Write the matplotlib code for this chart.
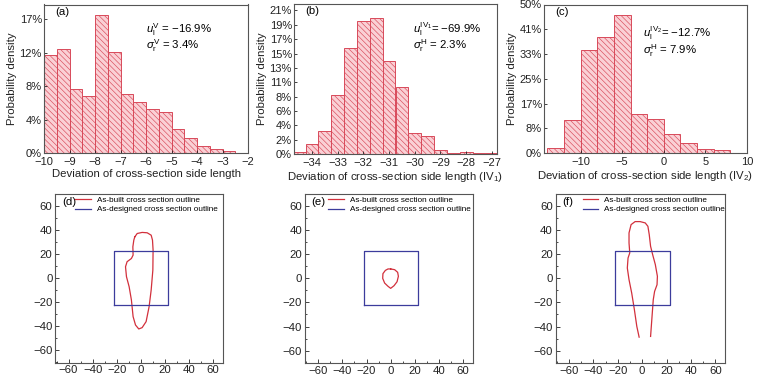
import numpy as np
import matplotlib
matplotlib.use('Agg')
import matplotlib.pyplot as plt

plt.rcParams['font.family'] = ['Liberation Sans', 'DejaVu Sans']
plt.rcParams['mathtext.fontset'] = 'custom'
plt.rcParams['mathtext.rm'] = 'Liberation Sans'
plt.rcParams['mathtext.it'] = 'Liberation Sans:italic'
plt.rcParams['hatch.linewidth'] = 0.45
plt.rcParams['xtick.direction'] = 'in'
plt.rcParams['ytick.direction'] = 'in'

# ---- histogram data (probability density, %) ----
a_left = np.arange(-10, -2, 0.5)
a_dens = [12.25, 13.0, 8.0, 7.05, 17.25, 12.55, 7.35, 6.35, 5.45, 5.1, 3.0, 1.9, 0.9, 0.45, 0.2, 0.05]
a_yticklabels = ['0%', '4%', '8%', '12%', '17%']

b_left = np.arange(-34.75, -27.0, 0.5)
b_dens = [0.35, 1.45, 3.35, 8.6, 15.6, 19.45, 19.95, 13.6, 9.9, 3.15, 2.6, 0.55, 0.1, 0.35, 0.15, 0.1]
b_yticklabels = ['0%', '2%', '4%', '6%', '8%', '11%', '13%', '15%', '17%', '19%', '21%']

c_left = np.arange(-14, 8, 2)
c_dens = [1.55, 11.2, 34.8, 39.2, 46.6, 13.0, 11.4, 6.5, 3.2, 1.3, 1.0]
c_yticklabels = ['0%', '8%', '17%', '25%', '33%', '41%', '50%']

# ---- cross section outlines (mm) ----
d_x = [-5.0, -3.0, 1.1, 5.3, 8.6, 9.7, 10.2, 10.0, 8.6, 6.9, 4.4, 1.1, -1.7, -4.4, -6.4, -7.8,
       -9.7, -11.9, -12.7, -11.4, -7.8, -6.4, -6.6, -5.8, -5.0]
d_y = [34.3, 37.1, 38.0, 37.7, 35.7, 31.6, 23.3, 6.6, -10.0, -23.8, -36.3, -41.3, -42.4, -39.1, -32.1, -18.3,
       -7.2, 1.1, 9.4, 13.6, 16.3, 19.1, 26.0, 31.6, 34.3]

e_x = [0.0, 3.3, 5.8, 6.4, 5.3, 2.8, 0.0, -2.2, -5.0, -6.6, -6.4, -4.4, -2.2, 0.0]
e_y = [7.8, 7.2, 5.0, 1.7, -2.8, -6.1, -8.3, -6.6, -3.9, 0.0, 3.9, 6.6, 7.8, 7.8]

f_x = [-2.5, -4.4, -6.4, -8.6, -10.8, -12.2, -11.6, -10.2, -10.8, -10.8, -9.1, -5.8, -1.7, 2.5, 4.7,
       5.8, 6.9, 8.6, 10.8, 12.5, 12.2, 10.2, 9.1, 8.3, 7.5, 6.9]
f_y = [-48.8, -39.9, -26.0, -12.2, -1.1, 8.6, 16.9, 21.1, 29.4, 37.7, 44.6, 47.1, 47.1, 46.0, 43.2,
       36.3, 26.6, 19.7, 11.4, 1.7, -5.3, -10.8, -17.7, -28.8, -39.9, -48.2]

design_half = 22.5
design_x = [-design_half, design_half, design_half, -design_half, -design_half]
design_y = [-design_half, -design_half, design_half, design_half, -design_half]

W, H = 757, 387
fig = plt.figure(figsize=(W / 100, H / 100), dpi=100)

def box(l, t, r, b):
    return [l / W, 1 - b / H, (r - l) / W, (b - t) / H]

bar_face = '#fad0d5'
bar_edge = '#d84a5a'
frame = '#555555'

def hist_panel(rect, left, dens, width, ystep, ylabels, ytop, xlim, xticks, xlabel, tag, txt, txy, gap):
    ax = fig.add_axes(rect)
    ax.bar(left, dens, width=width, align='edge', facecolor=bar_face, edgecolor=bar_edge,
           hatch='\\\\\\\\\\\\', linewidth=0.7)
    ax.set_xlim(*xlim)
    ax.set_ylim(0, ytop)
    ax.set_yticks(np.arange(len(ylabels)) * ystep)
    ax.set_yticklabels(ylabels)
    ax.set_xticks(xticks)
    ax.tick_params(labelsize=8, length=2.5, width=0.6, pad=1.5, colors='#222222')
    ax.tick_params(axis='x', pad=3)
    ax.set_xlabel(xlabel, fontsize=8.2, labelpad=1, color='#222222')
    ax.set_ylabel('Probability density', fontsize=8.2, labelpad=1.5, color='#222222')
    for s in ax.spines.values():
        s.set_color(frame)
        s.set_linewidth(0.8)
    ax.text(0.055, 0.985, tag, transform=ax.transAxes, fontsize=8.2, va='top', ha='left')
    ax.text(txy[0], txy[1], txt[0], transform=ax.transAxes, fontsize=8.2, va='center')
    ax.text(txy[0], txy[1] - gap, txt[1], transform=ax.transAxes, fontsize=8.2, va='center')
    return ax

hist_panel(box(44, 4.5, 248, 153), a_left, a_dens, 0.5, 25 / 6, a_yticklabels, 18.5,
           (-10, -2), range(-10, -1), 'Deviation of cross-section side length', '(a)',
           (r'$u_{\mathrm{l}}^{\mathrm{V}}$ = −16.9%', r'$\sigma_{\mathrm{r}}^{\mathrm{V}}$ = 3.4%'), (0.5, 0.83), 0.105)

hist_panel(box(294, 4, 497, 154), b_left, b_dens, 0.5, 2.105, b_yticklabels, 22.0,
           (-34.7, -26.8), range(-34, -26), r'Deviation of cross-section side length (IV$_1$)', '(b)',
           (r'$u_{\mathrm{l}}^{\mathrm{IV_1}}$= −69.9%', r'$\sigma_{\mathrm{r}}^{\mathrm{H}}$ = 2.3%'), (0.585, 0.83), 0.105)

hist_panel(box(544, 4.5, 747, 153), c_left, c_dens, 2, 25 / 3, c_yticklabels, 50.0,
           (-14.4, 10), [-10, -5, 0, 5, 10], r'Deviation of cross-section side length (IV$_2$)', '(c)',
           (r'$u_{\mathrm{l}}^{\mathrm{IV_2}}$= −12.7%', r'$\sigma_{\mathrm{r}}^{\mathrm{H}}$ = 7.9%'), (0.49, 0.805), 0.115)

red = '#d2303c'
blue = '#3c3c9c'

def outline_panel(rect, ox, oy, tag, leg_x):
    ax = fig.add_axes(rect)
    ax.plot(ox, oy, color=red, lw=0.9, label='As-built cross section outline')
    ax.plot(design_x, design_y, color=blue, lw=0.9, label='As-designed cross section outline')
    ax.set_xlim(-71, 68)
    ax.set_ylim(-70.5, 70)
    ax.set_xticks(range(-60, 61, 20))
    ax.set_yticks(range(-60, 61, 20))
    ax.set_xticks(range(-70, 70, 10), minor=True)
    ax.set_yticks(range(-70, 70, 10), minor=True)
    ax.tick_params(labelsize=8.2, length=3, width=0.6, pad=2, colors='#222222')
    ax.tick_params(which='minor', length=1.5, width=0.5)
    for s in ax.spines.values():
        s.set_color(frame)
        s.set_linewidth(0.8)
    ax.text(0.04, 0.985, tag, transform=ax.transAxes, fontsize=8.2, va='top', ha='left')
    ax.legend(loc='upper left', bbox_to_anchor=(leg_x, 1.015), frameon=False, fontsize=5.9,
              handlelength=1.9, handletextpad=0.7, labelspacing=0.2, borderaxespad=0.2)
    return ax

outline_panel(box(55.3, 194, 222.7, 362.7), d_x, d_y, '(d)', 0.09)
outline_panel(box(305, 194, 472.7, 363.3), e_x, e_y, '(e)', 0.11)
outline_panel(box(555.7, 194, 725, 363.3), f_x, f_y, '(f)', 0.13)

fig.savefig('out.png', dpi=100)
